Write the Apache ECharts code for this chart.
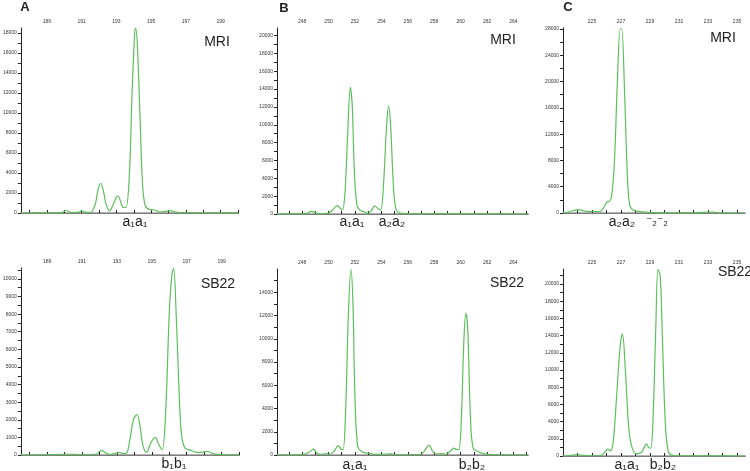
<!DOCTYPE html>
<html><head><meta charset="utf-8">
<script src="https://cdn.jsdelivr.net/npm/echarts@6/dist/echarts.min.js"></script>
<style>html,body{margin:0;padding:0;background:#fff}#c{width:750px;height:471px}</style>
</head><body><div id="c"></div>
<script>
// ---------- DATA ----------
// Panel A, MRI
const aMriX = [187.5,188.5,189.5,189.9,190.05,190.2,190.4,190.8,191.0,191.2,191.4,191.6,191.8,191.95,192.1,192.25,192.4,192.6,192.8,193.0,193.1,193.25,193.4,193.55,193.75,193.9,194.05,194.1,194.2,194.35,194.5,194.65,194.9,195.2,195.5,195.8,196.1,196.4,196.8,197.5,198.5,200];
const aMriY = [0,10,20,60,250,200,50,60,220,100,50,150,1000,2400,2950,2200,900,200,800,1600,1700,1100,550,550,4000,12000,18000,18500,17000,10000,3000,800,350,300,100,150,230,100,50,30,20,10];
// Panel A, SB22
const aSbX = [187.5,189,190,191,191.8,192.0,192.15,192.35,192.6,192.9,193.15,193.35,193.55,193.75,193.95,194.15,194.3,194.5,194.7,194.95,195.2,195.4,195.6,195.8,196.0,196.15,196.25,196.4,196.55,196.7,196.9,197.2,197.6,198.0,198.2,198.5,199,200];
const aSbY = [0,20,40,20,30,200,250,120,30,80,150,80,100,900,2000,2300,1800,500,150,700,1000,600,300,2500,8000,10200,10600,8000,4000,1200,400,280,150,180,200,80,20,10];
// Panel B, MRI
const bMriX = [246.1,247.5,248.3,248.7,249.1,249.5,250.0,250.4,250.65,250.85,251.05,251.25,251.45,251.65,251.8,251.95,252.15,252.4,252.7,252.95,253.2,253.5,253.75,253.95,254.15,254.4,254.55,254.7,254.9,255.1,255.4,256,257,258,260,262,265.1];
const bMriY = [0,20,50,300,80,30,100,600,950,700,450,2500,9000,14200,12000,5000,1000,400,250,100,300,900,600,450,3000,10000,12100,10000,3500,600,100,40,20,40,20,10,0];
// Panel B, SB22
const bSbX = [246.1,248.0,248.6,248.85,249.1,249.4,249.8,250.1,250.4,250.75,250.95,251.1,251.3,251.5,251.7,251.85,252.0,252.2,252.5,253.0,253.5,254.5,254.7,255.0,256,257.0,257.35,257.6,257.85,258.1,258.5,258.9,259.2,259.45,259.65,259.85,260.05,260.25,260.4,260.55,260.75,260.95,261.3,261.8,262.5,265.1];
const bSbY = [0,30,300,500,200,50,120,50,300,800,500,450,4000,12000,16000,13000,5000,800,300,150,50,80,120,40,20,50,500,850,400,100,120,80,300,600,500,450,3000,10000,12200,10500,3000,600,300,100,30,0];
// Panel C, MRI
const cMriX = [223,223.4,223.8,224.1,224.5,224.9,225.2,225.5,225.8,226.0,226.2,226.35,226.55,226.75,226.95,227.05,227.25,227.45,227.6,227.8,228.2,229,230,232,233.3,233.6,235.55];
const cMriY = [0,150,450,500,300,200,250,150,800,1600,1800,2500,8000,20000,28000,28000,18000,5000,1200,500,250,100,30,30,150,30,0];
// Panel C, SB22
const cSbX = [223,223.7,224.0,224.4,225,225.6,225.9,226.1,226.25,226.45,226.7,226.95,227.1,227.3,227.55,227.8,228.1,228.4,228.6,228.75,228.9,229.05,229.2,229.4,229.55,229.7,229.85,230.05,230.25,230.5,231,235.55];
const cSbY = [0,100,150,80,30,50,500,800,600,1500,7000,13000,14200,10000,3000,800,250,400,1000,1400,1000,900,4000,15000,21700,21000,14000,4000,600,100,30,0];

// Tick labels
const aXLabels = [189,191,193,195,197,199];
const aXTicks = [188,189,190,191,192,193,194,195,196,197,198,199,200];
const bXLabels = [248,250,252,254,256,258,260,262,264];
const bXTicks = [247,248,249,250,251,252,253,254,255,256,257,258,259,260,261,262,263,264,265];
const cXLabels = [225,227,229,231,233,235];
const cXTicks = [224,225,226,227,228,229,230,231,232,233,234,235];

const aMriYLabels = [0,2000,4000,6000,8000,10000,12000,14000,16000,18000];
const aMriYTicks = [0,1000,2000,3000,4000,5000,6000,7000,8000,9000,10000,11000,12000,13000,14000,15000,16000,17000,18000];
const aSbYLabels = [0,1000,2000,3000,4000,5000,6000,7000,8000,9000,10000];
const aSbYTicks = [0,500,1000,1500,2000,2500,3000,3500,4000,4500,5000,5500,6000,6500,7000,7500,8000,8500,9000,9500,10000,10500];
const bMriYLabels = [0,2000,4000,6000,8000,10000,12000,14000,16000,18000,20000];
const bMriYTicks = [0,1000,2000,3000,4000,5000,6000,7000,8000,9000,10000,11000,12000,13000,14000,15000,16000,17000,18000,19000,20000];
const bSbYLabels = [0,2000,4000,6000,8000,10000,12000,14000];
const bSbYTicks = [0,1000,2000,3000,4000,5000,6000,7000,8000,9000,10000,11000,12000,13000,14000,15000];
const cMriYLabels = [0,4000,8000,12000,16000,20000,24000,28000];
const cMriYTicks = [0,2000,4000,6000,8000,10000,12000,14000,16000,18000,20000,22000,24000,26000,28000];
const cSbYLabels = [0,2000,4000,6000,8000,10000,12000,14000,16000,18000,20000];
const cSbYTicks = [0,1000,2000,3000,4000,5000,6000,7000,8000,9000,10000,11000,12000,13000,14000,15000,16000,17000,18000,19000,20000,21000];

// ---------- BUILD ----------
const panels = [
  {x:aMriX, y:aMriY, xl:aXLabels, xt:aXTicks, yl:aMriYLabels, yt:aMriYTicks, xr:[187.5,200], ymax:18500, g:{left:16,top:28,width:222,height:185}},
  {x:aSbX, y:aSbY, xl:aXLabels, xt:aXTicks, yl:aSbYLabels, yt:aSbYTicks, xr:[187.5,200], ymax:10620, g:{left:16,top:268,width:223,height:187}},
  {x:bMriX, y:bMriY, xl:bXLabels, xt:bXTicks, yl:bMriYLabels, yt:bMriYTicks, xr:[246.1,265.1], ymax:20850, g:{left:277,top:28,width:251,height:186}},
  {x:bSbX, y:bSbY, xl:bXLabels, xt:bXTicks, yl:bSbYLabels, yt:bSbYTicks, xr:[246.1,265.1], ymax:16000, g:{left:277,top:269,width:251,height:186}},
  {x:cMriX, y:cMriY, xl:cXLabels, xt:cXTicks, yl:cMriYLabels, yt:cMriYTicks, xr:[223,235.55], ymax:28150, g:{left:563,top:28,width:182,height:185}},
  {x:cSbX, y:cSbY, xl:cXLabels, xt:cXTicks, yl:cSbYLabels, yt:cSbYTicks, xr:[223,235.55], ymax:21750, g:{left:563,top:269,width:182,height:187}}
];

const grid=[], xAxis=[], yAxis=[], series=[];
const lblStyle = {fontSize:5, color:'#333', fontFamily:'Liberation Sans', formatter:v=>String(v)};
panels.forEach((p,i)=>{
  grid.push(Object.assign({containLabel:false}, p.g));
  xAxis.push({type:'value', gridIndex:i, position:'top', min:p.xr[0], max:p.xr[1],
    axisLine:{show:true, lineStyle:{color:'#222', width:1}},
    axisTick:{show:true, length:3, customValues:p.xt, lineStyle:{color:'#222'}},
    axisLabel:Object.assign({customValues:p.xl, margin:4}, lblStyle),
    splitLine:{show:false}});
  xAxis.push({type:'value', gridIndex:i, position:'bottom', min:p.xr[0], max:p.xr[1],
    axisLine:{show:true, onZero:false, lineStyle:{color:'#9a9a9a', width:1.5}},
    axisTick:{show:false}, axisLabel:{show:false}, splitLine:{show:false}});
  yAxis.push({type:'value', gridIndex:i, min:0, max:p.ymax,
    axisLine:{show:true, lineStyle:{color:'#222', width:1}},
    axisTick:{show:true, length:3, customValues:p.yt, lineStyle:{color:'#222'}},
    axisLabel:Object.assign({customValues:p.yl, margin:4}, lblStyle),
    splitLine:{show:false}});
  series.push({type:'line', xAxisIndex:i*2, yAxisIndex:i, showSymbol:false, smooth:0.35,
    lineStyle:{color:'#5cbf5c', width:1.2}, data:p.x.map((v,k)=>[v,p.y[k]])});
});

function txt(x,y,t,size,bold){
  return {type:'text', x:x, y:y, style:{text:t, fill:'#222', font:(bold?'bold ':'')+size+'px "Liberation Sans", "DejaVu Sans"', align:'center', verticalAlign:'middle'}};
}
const graphic = [
  txt(25,7,'A',13,true), txt(284,8,'B',13,true), txt(568,7,'C',13,true),
  txt(217,42,'MRI',14), txt(218,284,'SB22',14),
  txt(503,40,'MRI',14), txt(507,283,'SB22',14),
  txt(723,38,'MRI',14), txt(735,272,'SB22',14),
  txt(135,222,'a₁a₁',14),
  txt(174,464,'b₁b₁',14),
  txt(352,222,'a₁a₁',14),
  txt(392,222,'a₂a₂',14),
  txt(355,465,'a₁a₁',14),
  txt(472,465,'b₂b₂',14),
  txt(622,222,'a₂a₂',14),
  txt(657,222,'⁻₂⁻₂',12),
  txt(627,465,'a₁a₁',14),
  txt(663,465,'b₂b₂',14)
];

const chart = echarts.init(document.getElementById('c'), null, {renderer:'canvas'});
chart.setOption({animation:false, backgroundColor:'#fff', grid, xAxis, yAxis, series, graphic});
</script></body></html>
